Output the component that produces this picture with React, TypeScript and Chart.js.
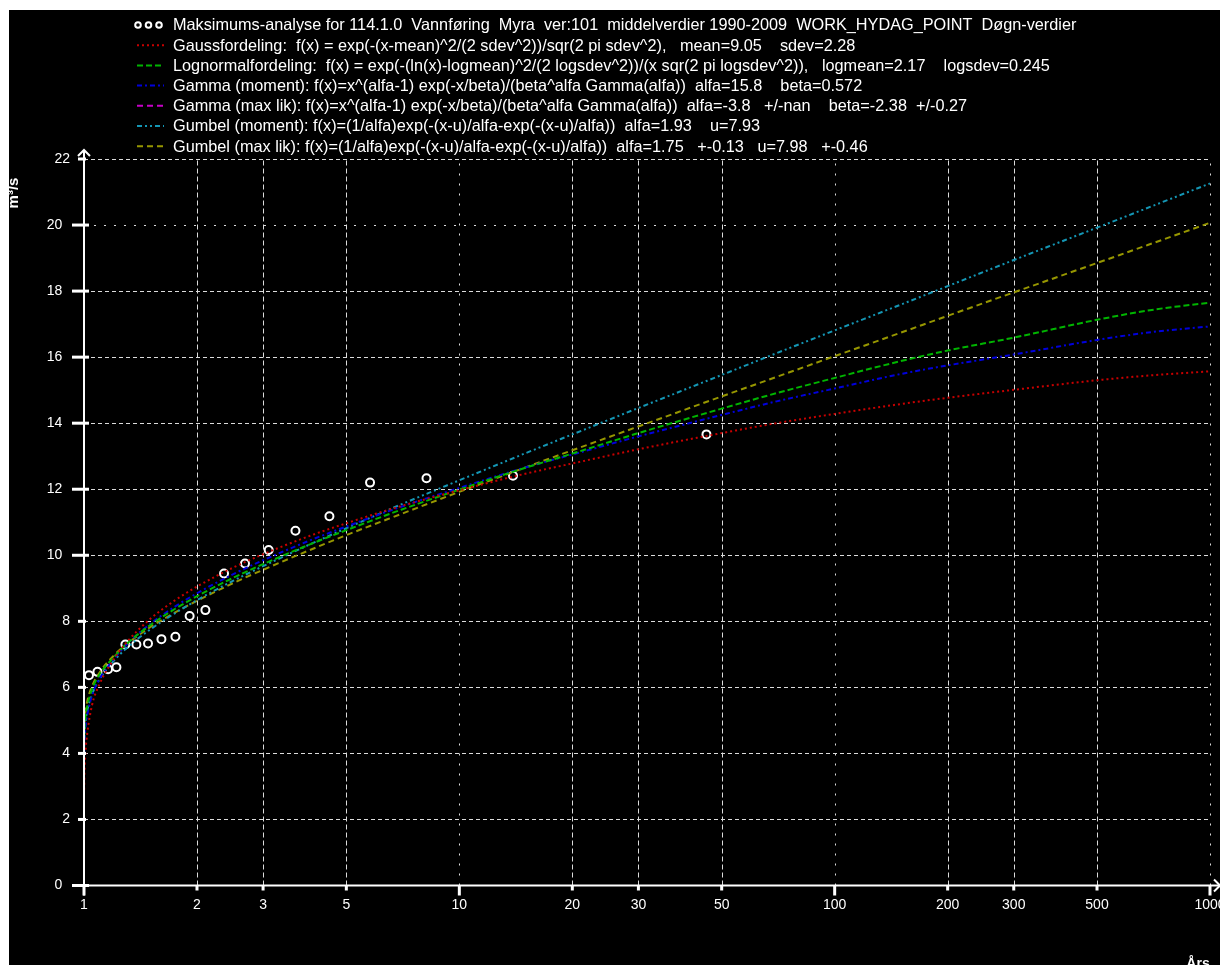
import React, { useEffect, useRef } from "react";
import { Chart, registerables } from "chart.js";

Chart.register(...registerables);

// ---------- data ----------
const returnPeriods = [1.001, 1.003, 1.01, 1.02, 1.05, 1.1, 1.2, 1.3, 1.5, 1.75, 2, 2.5, 3, 4, 5, 7, 10, 15, 20, 30, 50, 70, 100, 150, 200, 300, 500, 700, 1000];
const gaussValues = [2.9, 3.4, 4.1, 4.6, 5.45, 6.1, 6.85, 7.37, 8.07, 8.64, 9.05, 9.63, 10.03, 10.59, 10.97, 11.49, 11.97, 12.47, 12.78, 13.21, 13.7, 14.0, 14.28, 14.58, 14.77, 15.01, 15.3, 15.45, 15.57];
const lognormalValues = [4.46, 4.75, 5.15, 5.43, 5.94, 6.39, 6.91, 7.32, 7.88, 8.38, 8.76, 9.32, 9.73, 10.33, 10.76, 11.38, 11.99, 12.65, 13.08, 13.7, 14.44, 14.91, 15.37, 15.88, 16.2, 16.59, 17.13, 17.43, 17.65];
const gammaMomentValues = [4.0, 4.34, 4.82, 5.15, 5.75, 6.26, 6.85, 7.3, 7.92, 8.45, 8.85, 9.43, 9.85, 10.45, 10.87, 11.47, 12.04, 12.66, 13.05, 13.6, 14.25, 14.66, 15.05, 15.49, 15.75, 16.08, 16.52, 16.76, 16.93];
const gammaMaxLikValues: number[] = [];
const gumbelMomentValues = [4.2, 4.53, 4.98, 5.29, 5.78, 6.24, 6.8, 7.19, 7.75, 8.25, 8.64, 9.23, 9.67, 10.33, 10.82, 11.54, 12.27, 13.09, 13.66, 14.46, 15.46, 16.12, 16.81, 17.59, 18.15, 18.94, 19.92, 20.57, 21.26];
const gumbelMaxLikValues = [4.6, 4.9, 5.3, 5.58, 6.03, 6.45, 6.96, 7.31, 7.82, 8.27, 8.62, 9.16, 9.56, 10.16, 10.61, 11.25, 11.92, 12.66, 13.18, 13.9, 14.81, 15.4, 16.03, 16.74, 17.25, 17.96, 18.85, 19.44, 20.07];

const obsReturnPeriods = [1.031, 1.086, 1.159, 1.22, 1.289, 1.379, 1.481, 1.608, 1.752, 1.912, 2.106, 2.361, 2.685, 3.105, 3.659, 4.507, 5.782, 8.175, 13.9, 45.54];
const obsValues = [6.37, 6.47, 6.55, 6.61, 7.3, 7.3, 7.33, 7.46, 7.53, 8.16, 8.34, 9.45, 9.75, 10.16, 10.74, 11.18, 12.2, 12.33, 12.41, 13.66];

const xTickValues = [1, 2, 3, 5, 10, 20, 30, 50, 100, 200, 300, 500, 1000];
const xDottedGrid = [10, 100, 1000];
const yTickValues = [0, 2, 4, 6, 8, 10, 12, 14, 16, 18, 20, 22];
const yDottedGrid = [20];
const yLongTicks = [0, 10, 12, 14, 16, 18, 20];

const titleText = "Maksimums-analyse for 114.1.0  Vannføring  Myra  ver:101  middelverdier 1990-2009  WORK_HYDAG_POINT  Døgn-verdier";
const seriesLabels = [
  "Gaussfordeling:  f(x) = exp(-(x-mean)^2/(2 sdev^2))/sqr(2 pi sdev^2),   mean=9.05    sdev=2.28",
  "Lognormalfordeling:  f(x) = exp(-(ln(x)-logmean)^2/(2 logsdev^2))/(x sqr(2 pi logsdev^2)),   logmean=2.17    logsdev=0.245",
  "Gamma (moment): f(x)=x^(alfa-1) exp(-x/beta)/(beta^alfa Gamma(alfa))  alfa=15.8    beta=0.572",
  "Gamma (max lik): f(x)=x^(alfa-1) exp(-x/beta)/(beta^alfa Gamma(alfa))  alfa=-3.8   +/-nan    beta=-2.38  +/-0.27",
  "Gumbel (moment): f(x)=(1/alfa)exp(-(x-u)/alfa-exp(-(x-u)/alfa))  alfa=1.93    u=7.93",
  "Gumbel (max lik): f(x)=(1/alfa)exp(-(x-u)/alfa-exp(-(x-u)/alfa))  alfa=1.75   +-0.13   u=7.98   +-0.46",
];
const seriesValues = [gaussValues, lognormalValues, gammaMomentValues, gammaMaxLikValues, gumbelMomentValues, gumbelMaxLikValues];
const seriesColors = ["#c80000", "#00b400", "#0000dc", "#c800c8", "#1496b4", "#969600"];
const seriesDashes = [[2, 3], [6, 3], [5, 3, 2, 3], [6, 4], [5, 3, 2, 3, 2, 3], [6, 4]];
const yAxisTitle = "m³/s";
const xAxisTitle = "Års";

const W = 1211;
const H = 975;
const FONT = '"Liberation Sans", Arial, sans-serif';

const overlay = {
  id: "overlay",
  beforeDatasetsDraw(chart: any) {
    const { ctx, chartArea: a } = chart;
    const x = chart.scales.x;
    const y = chart.scales.y;
    ctx.save();
    ctx.strokeStyle = "#dcdcdc";
    ctx.lineWidth = 1;
    for (const v of yTickValues) {
      if (v === 0) continue;
      const py = Math.round(y.getPixelForValue(v)) + 0.5;
      ctx.setLineDash(yDottedGrid.includes(v) ? [2, 8] : [4, 3]);
      ctx.beginPath();
      ctx.moveTo(a.left, py);
      ctx.lineTo(a.right, py);
      ctx.stroke();
    }
    for (const v of xTickValues) {
      if (v === 1) continue;
      const px = Math.round(x.getPixelForValue(v)) + 0.5;
      ctx.setLineDash(xDottedGrid.includes(v) ? [2, 8] : [5, 3]);
      ctx.beginPath();
      ctx.moveTo(px, a.bottom);
      ctx.lineTo(px, a.top);
      ctx.stroke();
    }
    ctx.restore();
  },
  afterDraw(chart: any) {
    const { ctx, chartArea: a } = chart;
    const x = chart.scales.x;
    const y = chart.scales.y;
    ctx.save();
    ctx.strokeStyle = "#fff";
    ctx.fillStyle = "#fff";
    ctx.setLineDash([]);
    // axes
    ctx.lineWidth = 2;
    ctx.beginPath();
    ctx.moveTo(a.left, a.bottom + 10);
    ctx.lineTo(a.left, a.top - 9);
    ctx.moveTo(a.left - 12, a.bottom);
    ctx.lineTo(W, a.bottom);
    ctx.stroke();
    // arrows
    ctx.beginPath();
    ctx.moveTo(a.left - 6, a.top - 3);
    ctx.lineTo(a.left, a.top - 9);
    ctx.lineTo(a.left + 6, a.top - 3);
    ctx.moveTo(W - 6, a.bottom - 6);
    ctx.lineTo(W, a.bottom);
    ctx.lineTo(W - 6, a.bottom + 6);
    ctx.stroke();
    // y tick marks
    ctx.lineWidth = 3;
    for (const v of yTickValues) {
      const py = y.getPixelForValue(v);
      const long = yLongTicks.includes(v);
      ctx.beginPath();
      ctx.moveTo(a.left - (long ? 12 : 6), py);
      ctx.lineTo(a.left + (long ? 5 : 2), py);
      ctx.stroke();
    }
    // x tick marks
    for (const v of xTickValues) {
      const px = x.getPixelForValue(v);
      const long = xDottedGrid.includes(v) || v === 1;
      ctx.beginPath();
      ctx.moveTo(px, a.bottom);
      ctx.lineTo(px, a.bottom + (long ? 10 : 5));
      ctx.stroke();
    }
    // axis titles
    ctx.font = `bold 15px ${FONT}`;
    ctx.textAlign = "center";
    ctx.textBaseline = "middle";
    ctx.save();
    ctx.translate(5, 183);
    ctx.rotate(-Math.PI / 2);
    ctx.fillText(yAxisTitle, 0, 0);
    ctx.restore();
    ctx.font = `bold 14px ${FONT}`;
    ctx.textBaseline = "alphabetic";
    ctx.fillText(xAxisTitle, 1189, 958);

    // legend
    ctx.font = `14px ${FONT}`;
    const wG = ctx.measureText(seriesLabels[0]).width;
    const size = (14 * 683) / wG;
    ctx.font = `${size.toFixed(2)}px ${FONT}`;
    ctx.textAlign = "left";
    ctx.textBaseline = "middle";
    const x0 = 128;
    const x1 = 155;
    const tx = 164;
    const y0 = 15;
    const dy = 20.2;
    ctx.lineWidth = 2;
    for (let k = 0; k < 3; k++) {
      ctx.beginPath();
      ctx.arc(x0 + 1 + k * 10.5, y0, 2.8, 0, Math.PI * 2);
      ctx.stroke();
    }
    ctx.fillText(titleText, tx, y0 + 1);
    seriesLabels.forEach((lab, i) => {
      const ly = y0 + dy * (i + 1);
      ctx.strokeStyle = seriesColors[i];
      ctx.lineWidth = 2;
      ctx.setLineDash(seriesDashes[i]);
      ctx.beginPath();
      ctx.moveTo(x0, ly);
      ctx.lineTo(x1, ly);
      ctx.stroke();
      ctx.setLineDash([]);
      ctx.fillStyle = "#fff";
      ctx.fillText(lab, tx, ly + 1);
    });
    ctx.restore();
  },
};

export default function App() {
  const ref = useRef<HTMLCanvasElement>(null);
  useEffect(() => {
    const canvas = ref.current;
    if (!canvas) return;
    const lineSets = seriesLabels.map((lab, i) => ({
      type: "line" as const,
      label: lab,
      data: seriesValues[i].map((v, j) => ({ x: returnPeriods[j], y: v })),
      borderColor: seriesColors[i],
      backgroundColor: seriesColors[i],
      borderWidth: 2,
      borderDash: seriesDashes[i],
      pointRadius: 0,
      fill: false,
      cubicInterpolationMode: "monotone" as const,
    }));
    const chart = new Chart(canvas, {
      type: "line",
      data: {
        datasets: [
          ...lineSets,
          {
            type: "line" as const,
            label: titleText,
            data: obsReturnPeriods.map((t, j) => ({ x: t, y: obsValues[j] })),
            showLine: false,
            pointRadius: 4,
            pointBorderWidth: 2,
            pointBorderColor: "#ffffff",
            pointBackgroundColor: "#000000",
            borderColor: "#ffffff",
            backgroundColor: "#000000",
          },
        ],
      },
      options: {
        responsive: false,
        animation: false,
        devicePixelRatio: 1,
        layout: { padding: { left: 0, top: 149, right: 10, bottom: 0 }, autoPadding: false } as any,
        plugins: { legend: { display: false }, tooltip: { enabled: false } },
        scales: {
          x: {
            type: "logarithmic",
            min: 1,
            max: 1000,
            afterBuildTicks: (s: any) => {
              s.ticks = xTickValues.map((v) => ({ value: v }));
            },
            afterFit: (s: any) => {
              s.height = H - 875.5;
              s.paddingLeft = 0;
              s.paddingRight = 0;
            },
            grid: { display: false, drawTicks: false },
            border: { display: false },
            ticks: {
              color: "#ffffff",
              font: { family: FONT, size: 14 },
              padding: 11,
              maxRotation: 0,
              autoSkip: false,
              callback: (v: any) => String(v),
            },
          },
          y: {
            type: "linear",
            min: 0,
            max: 22,
            afterBuildTicks: (s: any) => {
              s.ticks = yTickValues.map((v) => ({ value: v }));
            },
            afterFit: (s: any) => {
              s.width = 75;
              s.paddingTop = 0;
              s.paddingBottom = 0;
            },
            grid: { display: false, drawTicks: false },
            border: { display: false },
            ticks: {
              color: "#ffffff",
              font: { family: FONT, size: 14 },
              padding: 14,
              callback: (v: any) => (yLongTicks.includes(Number(v)) ? String(v) + "  " : String(v)),
            },
          },
        },
      },
      plugins: [overlay],
    });
    return () => chart.destroy();
  }, []);
  return (
    <div style={{ position: "fixed", left: 9, top: 10, width: W, height: H, background: "#000", overflow: "hidden" }}>
      <canvas ref={ref} width={W} height={H} style={{ display: "block", width: W, height: H }} />
    </div>
  );
}
